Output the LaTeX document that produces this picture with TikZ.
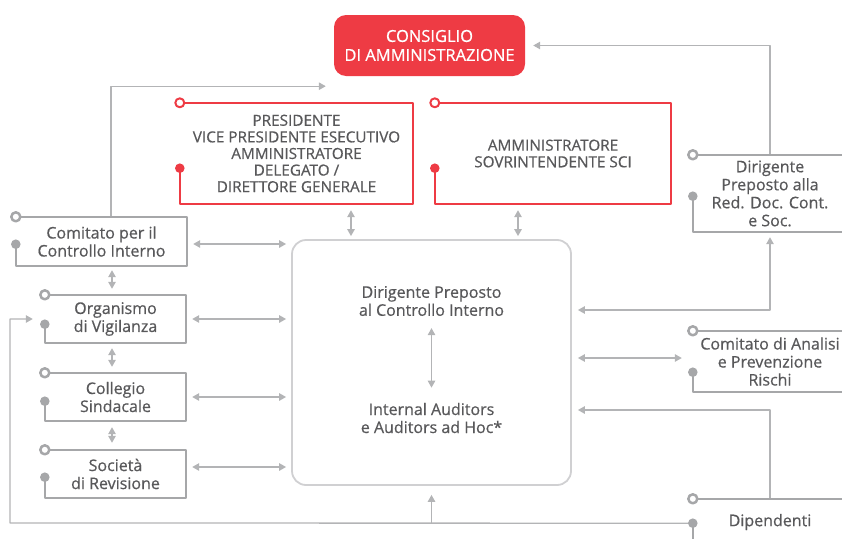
\documentclass[tikz,border=0pt]{standalone}
\usepackage{fontspec}
\setmainfont{Open Sans}[FakeBold=0.6]
\usetikzlibrary{arrows.meta}
\definecolor{rosso}{HTML}{EE3B44}
\definecolor{grigio}{HTML}{A6A7A9}
\definecolor{grigiol}{HTML}{B3B4B6}
\definecolor{grigioc}{HTML}{D0D0D2}
\definecolor{testo}{HTML}{58585A}
\begin{document}
\begin{tikzpicture}[x=1pt, y=-1pt, font=\fontsize{16}{18}\selectfont, line join=round, >={Triangle[length=7pt,width=7.5pt]},
	box/.style={text=testo, align=center, inner sep=0pt},
	maiusc/.style={font=\fontsize{15.3}{16.6}\selectfont},
	freccia/.style={->, grigiol, line width=1.3pt},
	doppia/.style={<->, grigiol, line width=1.3pt},
	cornice/.style={line width=2.5pt, grigio},
	cornicer/.style={line width=2pt, rosso}]
	\clip (0,0) rectangle (842,538);
	% vertici
	\node[box, fill=rosso, text=white, rounded corners=12pt, minimum width=191pt, minimum height=61pt, font=\fontsize{16.5}{19}\selectfont] (cda) at (429.5,45.5) {CONSIGLIO\\DI AMMINISTRAZIONE};
	\node[box, maiusc, minimum width=233pt, minimum height=101pt] (pres) at (296.5,153.5) {PRESIDENTE\\VICE PRESIDENTE ESECUTIVO\\AMMINISTRATORE\\DELEGATO /\\DIRETTORE GENERALE};
	\node[box, maiusc, minimum width=236pt, minimum height=101pt] (sci) at (553,153.5) {AMMINISTRATORE\\SOVRINTENDENTE SCI};
	% controllo interno
	\node[box, draw=grigioc, line width=1.8pt, rounded corners=14pt, minimum width=279pt, minimum height=245pt] (ctr) at (431.5,362.5) {};
	\node[box] (dpci) at (431.5,301) {Dirigente Preposto\\al Controllo Interno};
	\node[box] (iaa) at (431.5,418) {Internal Auditors\\e Auditors ad Hoc*};
	% organi a sinistra
	\node[box, minimum width=171pt, minimum height=49pt] (cci) at (101.5,241.5) {Comitato per il\\Controllo Interno};
	\node[box, minimum width=141pt, minimum height=48pt] (odv) at (115.5,319) {Organismo\\di Vigilanza};
	\node[box, minimum width=141pt, minimum height=48pt] (cs) at (115.5,397) {Collegio\\Sindacale};
	\node[box, minimum width=141pt, minimum height=48pt] (sdr) at (115.5,474) {Società\\di Revisione};
	% organi a destra
	\node[box, minimum width=154pt, minimum height=77pt] (dprd) at (770,193.5) {Dirigente\\Preposto alla\\Red. Doc. Cont.\\e Soc.};
	\node[box, minimum width=154pt, minimum height=61pt] (cap) at (770,361.5) {Comitato di Analisi\\e Prevenzione\\Rischi};
	\node[box, minimum width=154pt, minimum height=46pt] (dip) at (770,522) {Dipendenti};
	
	\coordinate (vx) at (112,0);
	\coordinate (px) at (351,0);
	\coordinate (sx) at (518,0);
	\coordinate (a1) at ([yshift=-2.5pt]cci.east);
	\coordinate (a4) at ([yshift=7pt]sdr.east);
	\coordinate (capa) at ([yshift=3.5pt]cap.west);
	\coordinate (dipdot) at ([yshift=22pt]dip.south west);
	\coordinate (lp) at (10,523);
	
	% frecce
	\draw[freccia, shorten >=8pt] ([xshift=9.5pt]cci.north) |- ([yshift=-10pt]cda.south west);
	\draw[freccia, shorten >=8pt] (dprd.north) |- (cda.east);
	\draw[doppia, shorten <=5pt, shorten >=6pt] (dprd.south) |- ([yshift=52.5pt]ctr.east);
	\draw[doppia, shorten <=6pt, shorten >=11pt] (capa -| ctr.east) -- (capa);
	\draw[freccia, shorten >=6pt] (dip.north) |- ([yshift=-47.5pt]ctr.east);
	\draw[freccia, shorten >=12pt] (dipdot) -- (lp) |- (odv.west);
	\draw[freccia, shorten >=9pt] (ctr.south |- lp) -- (ctr.south);
	\draw[doppia, shorten <=6pt, shorten >=3pt] (pres.south -| px) -- (ctr.north -| px);
	\draw[doppia, shorten <=6pt, shorten >=3pt] (sci.south -| sx) -- (ctr.north -| sx);
	\draw[doppia, shorten <=12pt, shorten >=15pt] (dpci.south) -- (iaa.north);
	\draw[doppia, shorten <=6pt, shorten >=5pt] (a1) -- (a1 -| ctr.west);
	\draw[doppia, shorten <=6pt, shorten >=5pt] (odv.east) -- (odv.east -| ctr.west);
	\draw[doppia, shorten <=6pt, shorten >=5pt] (cs.east) -- (cs.east -| ctr.west);
	\draw[doppia, shorten <=6pt, shorten >=5pt] (a4) -- (a4 -| ctr.west);
	\draw[doppia, shorten <=4pt, shorten >=6pt] (cci.south -| vx) -- (odv.north -| vx);
	\draw[doppia, shorten <=5pt, shorten >=6pt] (odv.south -| vx) -- (cs.north -| vx);
	\draw[doppia, shorten <=6pt, shorten >=7pt] (cs.south -| vx) -- (sdr.north -| vx);
	
	% cornici
	\draw[cornicer] (pres.north west) -- (pres.north east) -- (pres.south east) -- (pres.south west) -- ++(0,-36);
	\draw[cornicer, fill=white] (pres.north west) circle (4.5pt);
	\fill[rosso] ([yshift=36pt]pres.south west) circle (4.8pt);
	\draw[cornicer] (sci.north west) -- (sci.north east) -- (sci.south east) -- (sci.south west) -- ++(0,-36);
	\draw[cornicer, fill=white] (sci.north west) circle (4.5pt);
	\fill[rosso] ([yshift=36pt]sci.south west) circle (4.8pt);
	
	\draw[cornice] (cci.north west) -- (cci.north east) -- (cci.south east) -- (cci.south west) -- ++(0,-22);
	\draw[cornice, fill=white] (cci.north west) circle (4.5pt);
	\fill[grigio] ([yshift=22pt]cci.south west) circle (4.8pt);
	\draw[cornice] (odv.north west) -- (odv.north east) -- (odv.south east) -- (odv.south west) -- ++(0,-19);
	\draw[cornice, fill=white] (odv.north west) circle (4.5pt);
	\fill[grigio] ([yshift=19pt]odv.south west) circle (4.8pt);
	\draw[cornice] (cs.north west) -- (cs.north east) -- (cs.south east) -- (cs.south west) -- ++(0,-20);
	\draw[cornice, fill=white] (cs.north west) circle (4.5pt);
	\fill[grigio] ([yshift=20pt]cs.south west) circle (4.8pt);
	\draw[cornice] (sdr.north west) -- (sdr.north east) -- (sdr.south east) -- (sdr.south west) -- ++(0,-21);
	\draw[cornice, fill=white] (sdr.north west) circle (4.5pt);
	\fill[grigio] ([yshift=21pt]sdr.south west) circle (4.8pt);
	
	\draw[cornice] (dprd.north west) -- (dprd.north east) -- (dprd.south east) -- (dprd.south west) -- ++(0,-36);
	\draw[cornice, fill=white] (dprd.north west) circle (4.5pt);
	\fill[grigio] ([yshift=36pt]dprd.south west) circle (4.8pt);
	\draw[cornice] (cap.north west) -- (cap.north east) -- (cap.south east) -- (cap.south west) -- ++(0,-20);
	\draw[cornice, fill=white] (cap.north west) circle (4.5pt);
	\fill[grigio] ([yshift=20pt]cap.south west) circle (4.8pt);
	\draw[cornice] (dip.north west) -- (dip.north east) -- (dip.south east) -- (dip.south west) -- (dipdot);
	\draw[cornice, fill=white] (dip.north west) circle (4.5pt);
	\fill[grigio] (dipdot) circle (4.8pt);
\end{tikzpicture}
\end{document}
